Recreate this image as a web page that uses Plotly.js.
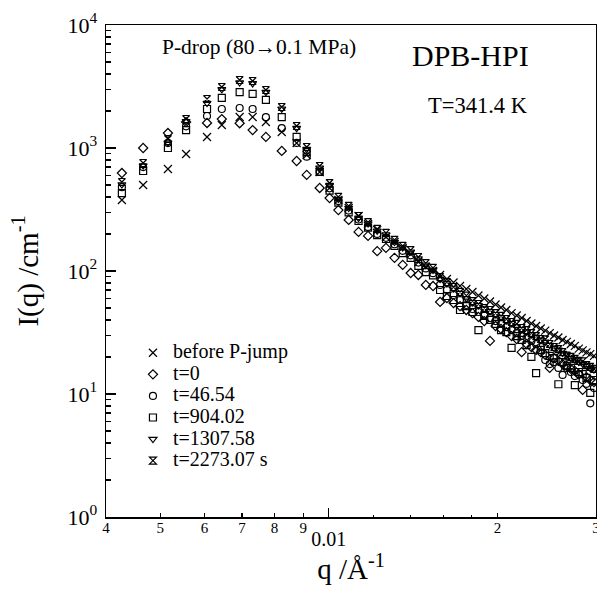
<!DOCTYPE html>
<html><head><meta charset="utf-8">
<script src="https://cdn.plot.ly/plotly-3.0.1.min.js"></script>
<style>html,body{margin:0;padding:0;background:#fff}</style>
</head><body><div id="chart" style="width:597px;height:590px"></div>
<script>
// q in 1/Angstrom
const q = [0.00427, 0.00466, 0.00516, 0.00556, 0.00606, 0.00644, 0.00693, 0.00731, 0.00772, 0.00824, 0.00876, 0.00913, 0.00963, 0.01003,
  0.0104, 0.01085, 0.0113, 0.01175, 0.0122, 0.01265, 0.0131, 0.01355, 0.014, 0.01445, 0.0149, 0.01535,
  0.0158, 0.01625, 0.0167, 0.01715, 0.0176, 0.01805, 0.0185, 0.01895, 0.0194, 0.01985, 0.0203, 0.02075, 0.0212, 0.02165, 0.0221, 0.02255,
  0.023, 0.02345, 0.0239, 0.02435, 0.0248, 0.02525, 0.0257, 0.02615, 0.0266, 0.02705, 0.0275, 0.02795, 0.0284, 0.02885, 0.0293, 0.02975];

const beforeJump = [378, 500, 675, 894, 1229, 1538, 1787, 1787, 1627, 1349, 1098, 877, 638, 473,
  378, 325, 280, 241, 215, 189, 172, 154, 137, 118, 108, 100,
  92.8, 86.1, 80.6, 75.5, 71.4, 67.5, 63.2, 59.8, 56.5, 53.4, 50.5, 48.2, 45.5, 43.5, 41.5, 39.2,
  37.4, 35.7, 34.1, 32.8, 31.3, 29.9, 28.8, 27.5, 26.5, 25.5, 24.6, 23.4, 22.6, 21.8, 21.1, 20.4];

const t0 = [626, 1000, 1324, 1625, 1597, 1720, 1590, 1400, 1230, 946, 784, 604, 473, 392,
  313, 260, 208, 193, 145, 154, 128, 112, 96.3, 92.8, 77.0, 75.5,
  56.0, 60.3, 54.9, 51.9, 48.2, 45.5, 42.3, 39.2, 27.0, 35.7, 33.8, 31.9, 29.6, 28.0, 21.9, 25.5,
  24.1, 22.8, 21.9, 20.8, 16.3, 19.6, 18.6, 17.5, 16.9, 16.0, 15.4, 14.5, 10.8, 13.7, 13.0, 12.5];

const t46 = [480, 700, 1100, 1500, 1820, 2075, 2115, 2075, 1780, 1450, 1100, 850, 640, 470,
  370, 310, 262, 228, 200, 186, 165, 146, 134, 117, 105, 96,
  77.0, 70.1, 63.8, 58.1, 52.9, 49.1, 46.4, 43.9, 41.5, 39.2, 37.1, 35.0, 33.1, 31.3, 29.6, 28.5,
  27.0, 25.5, 24.1, 18.9, 17.5, 18.2, 16.3, 14.3, 16.3, 15.1, 14.0, 14.5, 13.0, 12.1, 8.4, 11.2];

const t904 = [430, 650, 1000, 1400, 2075, 2560, 2850, 2750, 2460, 1780, 1230, 927, 640, 450,
  360, 300, 255, 225, 196, 182, 160, 140, 128, 110, 98, 92,
  70.1, 62.6, 58.1, 48.2, 51.9, 46.4, 33.1, 43.1, 40.0, 37.1, 33.1, 31.9, 23.7, 29.6, 27.5, 25.0,
  20.0, 14.8, 22.8, 21.5, 20.4, 19.6, 12.0, 18.2, 16.9, 16.3, 11.8, 15.1, 14.5, 13.5, 10.2, 13.0];

const t1307 = [505, 720, 1100, 1650, 2320, 3000, 3400, 3350, 2850, 2080, 1450, 980, 690, 500,
  385, 325, 270, 243, 212, 198, 172, 155, 143, 126, 112, 102,
  86, 79, 72, 66, 60, 55.5, 52.5, 49.5, 47, 44.5, 42, 39.5, 37.5, 35.5, 33.5, 32,
  30.5, 29, 27.5, 26.5, 25, 23.6, 22.8, 21.5, 20.8, 19.6, 19.0, 18.2, 17.6, 17.0, 16.2, 15.8];

const t2273 = [529, 755, 1184, 1721, 2502, 3133, 3572, 3505, 2962, 2154, 1510, 1019, 714, 519,
  400, 338, 280, 250, 220, 204, 179, 160, 148, 130, 116, 106,
  89.4, 81.4, 74.1, 67.5, 63.0, 57.0, 53.9, 50.0, 48.2, 45.5, 43.1, 40.7, 38.5, 37.2, 34.4, 33.1,
  31.3, 29.6, 28.0, 27.8, 25.5, 24.1, 23.2, 21.9, 20.5, 20.0, 19.3, 18.6, 18.4, 17.2, 16.6, 16.0];

const seriesNames = ['before P-jump', 't=0', 't=46.54', 't=904.02', 't=1307.58', 't=2273.07 s'];
const seriesData = [beforeJump, t0, t46, t904, t1307, t2273];
const seriesSymbols = ['x-thin-open', 'diamond-open', 'circle-open', 'square-open', 'triangle-down-open', 'hourglass-open'];
const seriesSizes = [8, 7, 7, 7, 7, 7];
const seriesXAxis = ['x2', 'x', 'x', 'x', 'x', 'x'];

const xTickVals = [0.004, 0.005, 0.006, 0.007, 0.008, 0.009, 0.02, 0.03];
const xTickText = ['4', '5', '6', '7', '8', '9', '2', '3'];
const xMinorVals = [0.012, 0.014, 0.016, 0.018];
const xMajorVals = [0.01];
const xMajorText = ['0.01'];
const yTickVals = [1, 10, 100, 1000, 10000];
const yTickText = ['10<sup>0</sup>', '10<sup>1</sup>', '10<sup>2</sup>', '10<sup>3</sup>', '10<sup>4</sup>'];
const yMinorVals = [2,3,4,5,6,7,8,9,20,30,40,50,60,70,80,90,200,300,400,500,600,700,800,900,2000,3000,4000,5000,6000,7000,8000,9000];

const FONT = '"Liberation Serif", "Times New Roman", serif';
const BLACK = '#000';

const traces = seriesNames.map((n, i) => ({
  type: 'scatter', mode: 'markers', x: q, y: seriesData[i], xaxis: seriesXAxis[i], yaxis: 'y',
  name: '<span style="font-size:20px">' + n + '</span>',
  marker: {symbol: seriesSymbols[i], size: seriesSizes[i], color: BLACK, line: {color: BLACK, width: 1.2}}
}));

const xRange = [Math.log10(0.004), Math.log10(0.03) + 1e-6];

const layout = {
  width: 597, height: 590,
  margin: {l: 106, r: 1, t: 25, b: 73},
  paper_bgcolor: '#fff', plot_bgcolor: '#fff',
  font: {family: FONT, color: BLACK},
  showlegend: true,
  legend: {x: 0.055, y: 0.366, xanchor: 'left', yanchor: 'top', bgcolor: 'rgba(0,0,0,0)',
           font: {family: FONT, size: 14.3, color: BLACK}, tracegroupgap: 0},
  xaxis: {
    type: 'log', range: xRange, tickmode: 'array', tickvals: xTickVals, ticktext: xTickText,
    ticks: 'inside', ticklen: 4, tickwidth: 1.2, tickcolor: BLACK,
    showline: true, linewidth: 1.5, linecolor: BLACK, mirror: true,
    showgrid: false, zeroline: false, ticklabelstandoff: -4, ticklabeloverflow: 'allow',
    tickfont: {family: FONT, size: 15, color: BLACK},
    minor: {tickmode: 'array', tickvals: xMinorVals, ticks: 'inside', ticklen: 2, tickwidth: 1.2, tickcolor: BLACK, showgrid: false},
    title: {text: 'q /Å<sup>-1</sup>', font: {family: FONT, size: 29, color: BLACK}, standoff: 24}
  },
  xaxis2: {
    type: 'log', range: xRange, overlaying: 'x', anchor: 'y', side: 'bottom',
    tickmode: 'array', tickvals: xMajorVals, ticktext: xMajorText,
    ticks: 'inside', ticklen: 9, tickwidth: 1.2, tickcolor: BLACK,
    showline: false, showgrid: false, zeroline: false,
    tickfont: {family: FONT, size: 20, color: BLACK}, ticklabelstandoff: 8
  },
  yaxis: {
    type: 'log', range: [0, 4], tickmode: 'array', tickvals: yTickVals, ticktext: yTickText,
    ticks: 'inside', ticklen: 10, tickwidth: 1.2, tickcolor: BLACK,
    showline: true, linewidth: 1.5, linecolor: BLACK, mirror: true,
    showgrid: false, zeroline: false, ticklabelstandoff: 3,
    tickfont: {family: FONT, size: 22, color: BLACK},
    minor: {tickmode: 'array', tickvals: yMinorVals, ticks: 'inside', ticklen: 5, tickwidth: 1.2, tickcolor: BLACK, showgrid: false},
    title: {text: 'I(q) /cm<sup>-1</sup>', font: {family: FONT, size: 29, color: BLACK}}
  },
  annotations: [
    {xref: 'paper', yref: 'paper', x: 0.313, y: 0.955, xanchor: 'center', yanchor: 'middle', showarrow: false,
     text: 'P-drop (80→0.1 MPa)', font: {family: FONT, size: 21.5, color: BLACK}},
    {xref: 'paper', yref: 'paper', x: 0.743, y: 0.937, xanchor: 'center', yanchor: 'middle', showarrow: false,
     text: 'DPB-HPI', font: {family: FONT, size: 30, color: BLACK}},
    {xref: 'paper', yref: 'paper', x: 0.759, y: 0.837, xanchor: 'center', yanchor: 'middle', showarrow: false,
     text: 'T=341.4 K', font: {family: FONT, size: 22.5, color: BLACK}}
  ]
};

Plotly.newPlot('chart', traces, layout, {displayModeBar: false, staticPlot: true});
</script>
</body></html>
